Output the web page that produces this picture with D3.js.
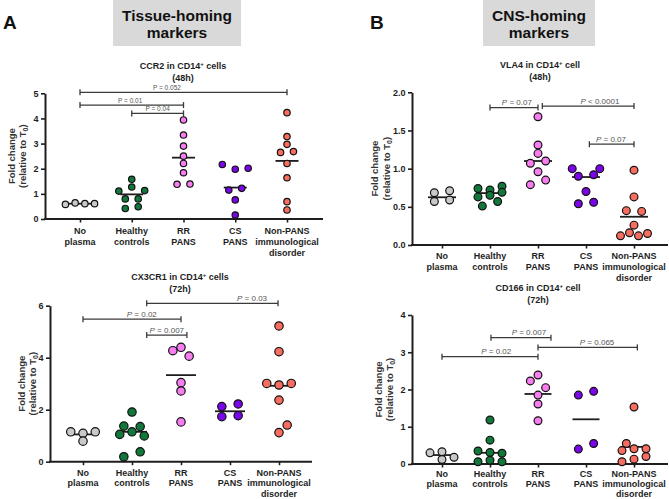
<!DOCTYPE html>
<html><head><meta charset="utf-8">
<script src="https://cdn.jsdelivr.net/npm/d3@7"></script>
<style>body{margin:0;background:#fff} svg{display:block;font-family:"Liberation Sans",Arial,sans-serif}</style>
</head><body><svg id="c" width="669" height="499"></svg>
<script>
// ---------- data ----------
const groups = ["No plasma","Healthy controls","RR PANS","CS PANS","Non-PANS immunological disorder"];
const groupLabelLines = [["No","plasma"],["Healthy","controls"],["RR","PANS"],["CS","PANS"],["Non-PANS","immunological","disorder"]];
const groupColors = ["#c9c9c9","#12773b","#f77df0","#7a05e8","#f76e60"];

// CCR2 in CD14+ cells (48h)
const ccr2Values = [
  [0.58, 0.64, 0.61, 0.61],
  [1.58, 1.11, 1.27, 1.13, 0.80, 0.80, 0.42, 0.49],
  [3.94, 3.34, 2.90, 2.50, 2.21, 1.84, 1.38, 1.39],
  [2.17, 1.98, 2.02, 1.15, 1.22, 0.76, 0.16],
  [4.23, 3.28, 2.97, 2.65, 2.68, 2.21, 1.64, 0.69, 0.36]
];
const ccr2Means = [0.61, 0.98, 2.44, 1.25, 2.31];
const ccr2Ticks = [0, 1, 2, 3, 4, 5];
const ccr2Brackets = [
  {from: 0, to: 4, y: 5.04, at: 1.68, label: "P = 0.052"},
  {from: 0, to: 2, y: 4.53, at: 0.97, label: "P = 0.01"},
  {from: 1, to: 2, y: 4.20, at: 1.50, label: "P = 0.04"}
];

// CX3CR1 in CD14+ cells (72h)
const cx3cr1Values = [
  [1.15, 1.09, 1.15, 0.79],
  [1.91, 1.37, 1.35, 1.05, 1.15, 0.99, 0.19, 0.38],
  [4.27, 4.06, 4.40, 3.04, 2.72, 1.53],
  [2.12, 2.22, 1.73, 1.77],
  [5.22, 4.23, 3.01, 2.95, 3.01, 2.37, 1.41, 1.12]
];
const cx3cr1Means = [1.05, 1.15, 3.33, 1.94, 2.92];
const cx3cr1Ticks = [0, 2, 4, 6];
const cx3cr1Brackets = [
  {from: 1.3, to: 3.98, y: 6.09, at: 3.45, label: "P = 0.03"},
  {from: 0, to: 2, y: 5.48, at: 1.2, label: "P = 0.02"},
  {from: 1.3, to: 2.12, y: 4.87, at: 1.71, label: "P = 0.007"}
];

// VLA4 in CD14+ cell (48h)
const vla4Values = [
  [0.685, 0.71, 0.57, 0.59],
  [0.74, 0.72, 0.77, 0.63, 0.65, 0.69, 0.51, 0.57],
  [1.68, 1.31, 1.20, 1.07, 1.10, 0.96, 0.79, 0.85],
  [1.00, 1.00, 0.90, 0.92, 0.70, 0.54, 0.56],
  [0.98, 0.63, 0.45, 0.44, 0.26, 0.12, 0.16, 0.12, 0.15]
];
const vla4Means = [0.625, 0.68, 1.10, 0.89, 0.37];
const vla4Ticks = [0, 0.5, 1.0, 1.5, 2.0];
const vla4Brackets = [
  {from: 1, to: 2, y: 1.80, at: 1.56, label: "P = 0.07"},
  {from: 2.09, to: 4, y: 1.82, at: 3.29, label: "P < 0.0001"},
  {from: 3.07, to: 4, y: 1.32, at: 3.52, label: "P = 0.07"}
];

// CD166 in CD14+ cell (72h)
const cd166Values = [
  [0.33, 0.30, 0.12, 0.18],
  [1.18, 0.64, 0.35, 0.31, 0.29, 0.06, 0.10, 0.06],
  [2.23, 2.39, 2.05, 1.85, 1.61, 1.16],
  [1.85, 1.95, 0.40, 0.55],
  [1.53, 0.55, 0.36, 0.41, 0.41, 0.06, 0.13, 0.20]
];
const cd166Means = [0.24, 0.30, 1.88, 1.20, 0.46];
const cd166Ticks = [0, 1, 2, 3, 4];
const cd166Brackets = [
  {from: 1.02, to: 2.27, y: 3.39, at: 1.81, label: "P = 0.007"},
  {from: 2, to: 4.07, y: 3.13, at: 3.23, label: "P = 0.065"},
  {from: 0, to: 2, y: 2.88, at: 1.13, label: "P = 0.02"}
];

// ---------- drawing ----------
const svg = d3.select("#c");
const INK = "#1e1e1e";

// section headers
function header(letter, lx, boxX, boxW, lines) {
  svg.append("text").attr("x", lx).attr("y", 29).attr("font-size", 19).attr("font-weight", "bold")
    .attr("fill", "#111").text(letter);
  svg.append("rect").attr("x", boxX).attr("y", 0).attr("width", boxW).attr("height", 46).attr("fill", "#d9d9d9");
  lines.forEach((t, i) => svg.append("text").attr("x", boxX + boxW / 2).attr("y", 20.5 + i * 17.8)
    .attr("text-anchor", "middle").attr("font-size", 15.5).attr("font-weight", "bold").attr("fill", "#111").text(t));
}
header("A", 3, 113, 128, ["Tissue-homing", "markers"]);
header("B", 370, 483, 112, ["CNS-homing", "markers"]);

function swarm(vals, ys, diam, band) {
  const thr = 0.75 * diam;
  const pts = vals.map((v, i) => ({v, i, py: ys(v), dx: 0}));
  const sorted = pts.slice().sort((a, b) => b.py - a.py || a.i - b.i);
  const bins = [];
  let cur = null;
  sorted.forEach(p => {
    if (cur && cur.start - p.py <= thr) cur.pts.push(p);
    else { cur = {start: p.py, pts: [p]}; bins.push(cur); }
  });
  const placed = [];
  const collides = (cands) => cands.some(c => placed.some(q => Math.hypot(q.dx - c.dx, q.py - c.py) < 0.85 * diam));
  const maxS = Math.min(1.7 * diam, 0.375 * band);
  bins.forEach(b => {
    b.pts.sort((a, c) => a.i - c.i);
    const n = b.pts.length;
    if (n === 1) {
      const p = b.pts[0];
      const opts = [0, maxS / 2, -maxS / 2, maxS, -maxS];
      let chosen = 0;
      for (const o of opts) { if (!collides([{dx: o, py: p.py}])) { chosen = o; break; } }
      p.dx = chosen;
    } else {
      const base = Math.min(1.7 * diam, 0.75 * band / n);
      let done = false;
      for (const f of [1, 1.25, 1.5, 1.8]) {
        const c = b.pts.map((p, k) => ({dx: (k - (n - 1) / 2) * base * f, py: p.py}));
        if (!collides(c)) { b.pts.forEach((p, k) => p.dx = c[k].dx); done = true; break; }
      }
      if (!done) b.pts.forEach((p, k) => p.dx = (k - (n - 1) / 2) * base);
    }
    b.pts.forEach(p => placed.push(p));
  });
  return pts;
}

function drawPanel(cfg) {
  const g = svg.append("g");
  const y = d3.scaleLinear().domain([0, cfg.yMax]).range([cfg.yBottom, cfg.yTop]);
  const x = d3.scalePoint().domain(groups).range(cfg.catRange);
  const xi = d3.scaleLinear().domain([0, groups.length - 1]).range(cfg.catRange);
  const band = x.step();

  // title
  const t1 = g.append("text").attr("x", cfg.titleX).attr("y", cfg.titleY).attr("text-anchor", "middle")
    .attr("font-size", 9).attr("font-weight", "bold").attr("fill", INK);
  t1.append("tspan").text(cfg.title[0]);
  t1.append("tspan").attr("dy", -3.5).attr("font-size", 6).text("+");
  t1.append("tspan").attr("dy", 3.5).attr("font-size", 9).text(cfg.title[1]);
  g.append("text").attr("x", cfg.titleX).attr("y", cfg.titleY + 11.5).attr("text-anchor", "middle")
    .attr("font-size", 9).attr("font-weight", "bold").attr("fill", INK).text(cfg.title[2]);

  // y-axis title
  const cy = (cfg.yTop + cfg.yBottom) / 2;
  g.append("text").attr("transform", `translate(${cfg.ytX[0]},${cy}) rotate(-90)`).attr("text-anchor", "middle")
    .attr("font-size", 9.5).attr("font-weight", "bold").attr("fill", "#333").text("Fold change");
  const yt2 = g.append("text").attr("transform", `translate(${cfg.ytX[1]},${cy}) rotate(-90)`).attr("text-anchor", "middle")
    .attr("font-size", 9.5).attr("font-weight", "bold").attr("fill", "#333");
  yt2.append("tspan").text("(relative to T");
  yt2.append("tspan").attr("dy", 2.5).attr("font-size", 7).text("0");
  yt2.append("tspan").attr("dy", -2.5).attr("font-size", 9.5).text(")");

  // y axis
  const ya = g.append("g").attr("transform", `translate(${cfg.x0},0)`)
    .call(d3.axisLeft(y).tickValues(cfg.ticks).tickSize(4).tickSizeOuter(0).tickPadding(2.5).tickFormat(cfg.fmt));
  ya.select(".domain").attr("stroke", INK).attr("stroke-width", 2);
  ya.selectAll(".tick line").attr("stroke", INK).attr("stroke-width", 1.6);
  ya.selectAll(".tick text").attr("font-size", 9).attr("font-weight", "bold").attr("fill", INK)
    .attr("font-family", '"Liberation Sans",Arial,sans-serif');

  // x axis
  const xa = g.append("g").attr("transform", `translate(0,${cfg.yBottom})`)
    .call(d3.axisBottom(x).tickSize(3.5).tickSizeOuter(0).tickFormat(""));
  xa.select(".domain").remove();
  xa.selectAll(".tick line").attr("stroke", INK).attr("stroke-width", 1.6);
  g.append("line").attr("x1", cfg.x0 - 1).attr("x2", cfg.xEnd).attr("y1", cfg.yBottom).attr("y2", cfg.yBottom)
    .attr("stroke", INK).attr("stroke-width", 2);

  // category labels
  groups.forEach((grp, gi) => {
    groupLabelLines[gi].forEach((ln, li) => {
      g.append("text").attr("x", x(grp)).attr("y", cfg.yBottom + cfg.lab[0] + li * cfg.lab[1]).attr("text-anchor", "middle")
        .attr("font-size", 9).attr("font-weight", "bold").attr("fill", INK).text(ln);
    });
  });

  // brackets
  cfg.brackets.forEach(b => {
    const by = y(b.y), x1 = xi(b.from), x2 = xi(b.to);
    const bg = g.append("g").attr("stroke", "#3a3a3a").attr("stroke-width", 1.3);
    bg.append("line").attr("x1", x1).attr("x2", x2).attr("y1", by).attr("y2", by);
    bg.append("line").attr("x1", x1).attr("x2", x1).attr("y1", by - 3).attr("y2", by + 3);
    bg.append("line").attr("x1", x2).attr("x2", x2).attr("y1", by - 3).attr("y2", by + 3);
    const tt = g.append("text").attr("x", xi(b.at)).attr("y", by - 2.5).attr("text-anchor", "middle")
      .attr("font-size", cfg.pSize).attr("fill", "#555");
    if (cfg.italicP) {
      tt.append("tspan").attr("font-style", "italic").text(b.label.slice(0, 1));
      tt.append("tspan").text(b.label.slice(1));
    } else tt.text(b.label);
  });

  // mean lines
  groups.forEach((grp, gi) => {
    g.append("line").attr("x1", x(grp) - cfg.meanHalf).attr("x2", x(grp) + cfg.meanHalf)
      .attr("y1", y(cfg.means[gi])).attr("y2", y(cfg.means[gi]))
      .attr("stroke", INK).attr("stroke-width", 1.8);
  });

  // points
  const diam = 2 * cfg.r + 1.2;
  groups.forEach((grp, gi) => {
    const pts = swarm(cfg.values[gi], y, diam, band);
    g.append("g").selectAll("circle").data(pts).join("circle")
      .attr("cx", d => x(grp) + d.dx).attr("cy", d => d.py).attr("r", cfg.r)
      .attr("fill", groupColors[gi]).attr("stroke", "#111").attr("stroke-width", 1.2);
  });
}

drawPanel({values: ccr2Values, means: ccr2Means, ticks: ccr2Ticks, brackets: ccr2Brackets, fmt: d3.format("d"),
  yMax: 5, yTop: 93.3, yBottom: 219, x0: 45, xEnd: 323, catRange: [80, 287], r: 3.2, meanHalf: 11.5,
  title: ["CCR2 in CD14", " cells", "(48h)"], titleX: 183, titleY: 69, ytX: [14.5, 25.5], pSize: 6.5, italicP: false,
  lab: [14.5, 11]});

drawPanel({values: cx3cr1Values, means: cx3cr1Means, ticks: cx3cr1Ticks, brackets: cx3cr1Brackets, fmt: d3.format("d"),
  yMax: 6, yTop: 305.7, yBottom: 461.7, x0: 50, xEnd: 312, catRange: [83, 279], r: 4.2, meanHalf: 15,
  title: ["CX3CR1 in CD14", " cells", "(72h)"], titleX: 180, titleY: 280, ytX: [24.5, 35.5], pSize: 8, italicP: true,
  lab: [14, 10.5]});

drawPanel({values: vla4Values, means: vla4Means, ticks: vla4Ticks, brackets: vla4Brackets, fmt: d3.format(".1f"),
  yMax: 2, yTop: 92.3, yBottom: 245, x0: 412, xEnd: 668, catRange: [442, 634], r: 3.9, meanHalf: 14,
  title: ["VLA4 in CD14", " cell", "(48h)"], titleX: 540, titleY: 68, ytX: [377.5, 389.5], pSize: 8, italicP: true,
  lab: [14, 10.8]});

drawPanel({values: cd166Values, means: cd166Means, ticks: cd166Ticks, brackets: cd166Brackets, fmt: d3.format("d"),
  yMax: 4, yTop: 315, yBottom: 464, x0: 412, xEnd: 668, catRange: [442, 634], r: 3.9, meanHalf: 13.5,
  title: ["CD166 in CD14", " cell", "(72h)"], titleX: 538, titleY: 291, ytX: [381.5, 392.5], pSize: 8, italicP: true,
  lab: [12.5, 10]});
</script>
</body></html>
